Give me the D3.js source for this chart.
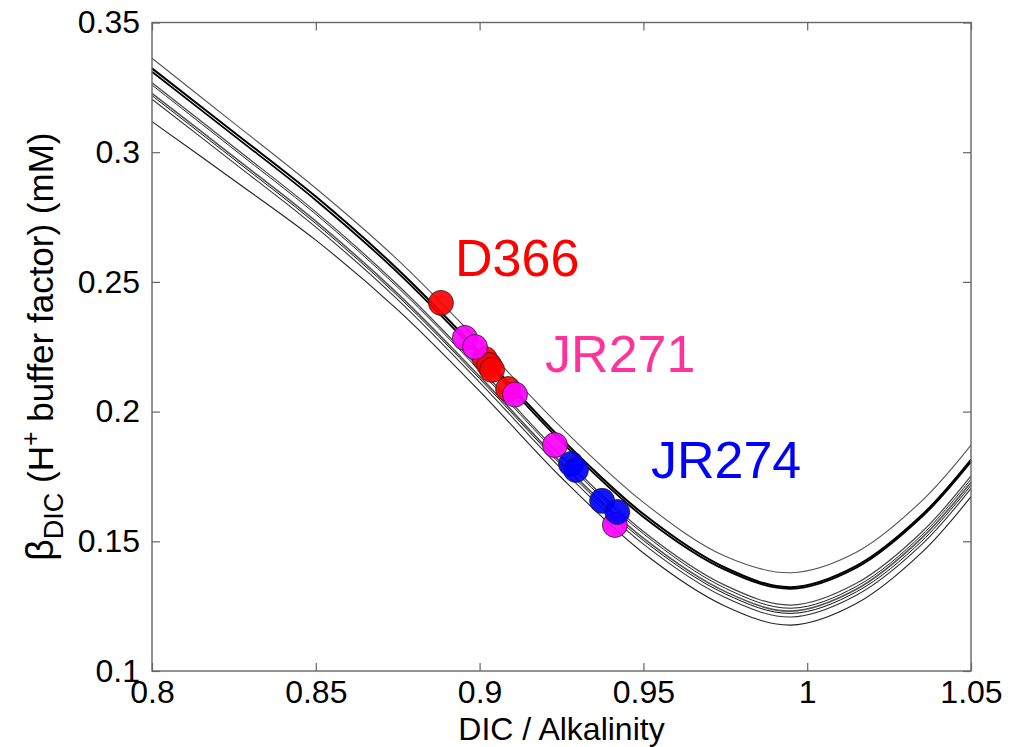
<!DOCTYPE html>
<html>
<head>
<meta charset="utf-8">
<script src="https://cdn.jsdelivr.net/npm/d3@7"></script>
<style>
  html, body { margin: 0; padding: 0; background: #fff; }
  svg { display: block; font-family: "Liberation Sans", Arial, Helvetica, sans-serif; }
</style>
</head>
<body>
<svg id="chart" width="1017" height="747"></svg>
<script>
// ---------- data ----------
const xTicks = [0.8, 0.85, 0.9, 0.95, 1, 1.05];
const xTickLabels = ["0.8", "0.85", "0.9", "0.95", "1", "1.05"];
const yTicks = [0.1, 0.15, 0.2, 0.25, 0.3, 0.35];
const yTickLabels = ["0.1", "0.15", "0.2", "0.25", "0.3", "0.35"];

// x positions at which the curves were read
const curveX = [0.8, 0.825, 0.85, 0.875, 0.9, 0.925, 0.95, 0.975, 0.995, 1.015, 1.035, 1.05];
const curveA = [0.3362, 0.3112, 0.2861, 0.2585, 0.2268, 0.1938, 0.1650, 0.1442, 0.1379, 0.1458, 0.1656, 0.1871];
const curveB = [0.3323, 0.3077, 0.2829, 0.2549, 0.2230, 0.1895, 0.1605, 0.1398, 0.1323, 0.1405, 0.1601, 0.1815];
const curveC = [0.3310, 0.3064, 0.2815, 0.2536, 0.2217, 0.1883, 0.1594, 0.1390, 0.1317, 0.1398, 0.1594, 0.1807];
const curveD = [0.3268, 0.3020, 0.2770, 0.2488, 0.2167, 0.1830, 0.1538, 0.1330, 0.1254, 0.1338, 0.1536, 0.1752];
const curveE = [0.3259, 0.3011, 0.2761, 0.2479, 0.2158, 0.1821, 0.1529, 0.1319, 0.1242, 0.1326, 0.1524, 0.1740];
const curveF = [0.3227, 0.2982, 0.2734, 0.2455, 0.2136, 0.1802, 0.1512, 0.1306, 0.1231, 0.1315, 0.1513, 0.1728];
const curveG = [0.3218, 0.2973, 0.2725, 0.2446, 0.2127, 0.1793, 0.1503, 0.1297, 0.1222, 0.1305, 0.1501, 0.1716];
const curveH = [0.3204, 0.2959, 0.2711, 0.2432, 0.2113, 0.1779, 0.1489, 0.1283, 0.1208, 0.1292, 0.1488, 0.1704];
const curveI = [0.3118, 0.2892, 0.2661, 0.2392, 0.2079, 0.1745, 0.1455, 0.1250, 0.1177, 0.1260, 0.1457, 0.1672];

// cruise observations
const d366X = [0.8882, 0.9016, 0.9029, 0.9038, 0.9087];
const d366Y = [0.2419, 0.2203, 0.2180, 0.2161, 0.2087];
const jr271X = [0.8955, 0.8986, 0.9108, 0.9230, 0.9413];
const jr271Y = [0.2284, 0.2249, 0.2066, 0.1871, 0.1563];
const jr274X = [0.9279, 0.9294, 0.9374, 0.9420];
const jr274Y = [0.1798, 0.1775, 0.1656, 0.1613];

// ---------- layout ----------
const svg = d3.select("#chart");
const mLeft = 152, mRight = 971, mTop = 22.5, mBottom = 671;
const x = d3.scaleLinear().domain([0.8, 1.05]).range([mLeft, mRight]);
const y = d3.scaleLinear().domain([0.1, 0.35]).range([mBottom, mTop]);

const curves = [
  {v: curveA, stroke: "#555", w: 1.1},
  {v: curveI, stroke: "#222", w: 1.1},
  {v: curveH, stroke: "#333", w: 1.1},
  {v: curveG, stroke: "#111", w: 1.0},
  {v: curveF, stroke: "#555", w: 1.6},
  {v: curveE, stroke: "#222", w: 1.0},
  {v: curveD, stroke: "#444", w: 1.2},
  {v: curveC, stroke: "#000", w: 1.8},
  {v: curveB, stroke: "#000", w: 2.0}
];

const line = d3.line()
  .x(d => x(d[0]))
  .y(d => y(d[1]))
  .curve(d3.curveCatmullRom.alpha(0.5));

const gCurves = svg.append("g");
curves.forEach(c => {
  gCurves.append("path")
    .datum(curveX.map((xv, i) => [xv, c.v[i]]))
    .attr("d", line)
    .attr("fill", "none")
    .attr("stroke", c.stroke)
    .attr("stroke-width", c.w);
});

// points
const series = [
  {xs: d366X, ys: d366Y, color: "#ff0000"},
  {xs: jr271X, ys: jr271Y, color: "#ff00ff"},
  {xs: jr274X, ys: jr274Y, color: "#0000ff"}
];
const gPts = svg.append("g");
series.forEach(s => {
  gPts.selectAll(null)
    .data(s.xs.map((xv, i) => [xv, s.ys[i]]))
    .enter().append("circle")
    .attr("cx", d => x(d[0]))
    .attr("cy", d => y(d[1]))
    .attr("r", 12.5)
    .attr("fill", s.color)
    .attr("fill-opacity", 0.92)
    .attr("stroke", "#222")
    .attr("stroke-opacity", 0.8)
    .attr("stroke-width", 1);
});

// labels
const labels = [
  {t: "D366", xv: 0.8925, yv: 0.2522, color: "#ff0000"},
  {t: "JR271", xv: 0.9200, yv: 0.2153, color: "#ff3399"},
  {t: "JR274", xv: 0.9523, yv: 0.1744, color: "#0000ff"}
];
svg.append("g").selectAll("text").data(labels).enter().append("text")
  .attr("x", d => x(d.xv))
  .attr("y", d => y(d.yv))
  .attr("fill", d => d.color)
  .attr("font-size", 52)
  .text(d => d.t);

// frame
svg.append("rect")
  .attr("x", mLeft).attr("y", mTop)
  .attr("width", mRight - mLeft).attr("height", mBottom - mTop)
  .attr("fill", "none").attr("stroke", "#666").attr("stroke-width", 1.4);

// axes
const axisStyle = g => {
  g.select(".domain").remove();
  g.selectAll(".tick line").attr("stroke", "#666").attr("stroke-width", 1.2);
  g.selectAll(".tick text").attr("font-size", 32).attr("fill", "#000")
    .attr("font-family", "'Liberation Sans', Arial, sans-serif");
};
svg.append("g").attr("transform", `translate(0,${mBottom})`)
  .call(d3.axisBottom(x).tickValues(xTicks).tickFormat((d, i) => xTickLabels[i]).tickSize(-8).tickPadding(9))
  .call(axisStyle);
svg.append("g").attr("transform", `translate(0,${mTop})`)
  .call(d3.axisTop(x).tickValues(xTicks).tickFormat("").tickSize(-8))
  .call(axisStyle);
svg.append("g").attr("transform", `translate(${mLeft},0)`)
  .call(d3.axisLeft(y).tickValues(yTicks).tickFormat((d, i) => yTickLabels[i]).tickSize(-8).tickPadding(12))
  .call(axisStyle);
svg.append("g").attr("transform", `translate(${mRight},0)`)
  .call(d3.axisRight(y).tickValues(yTicks).tickFormat("").tickSize(-8))
  .call(axisStyle);

// axis titles
svg.append("text")
  .attr("x", (mLeft + mRight) / 2).attr("y", 740)
  .attr("text-anchor", "middle").attr("font-size", 32)
  .text("DIC / Alkalinity");

const yt = svg.append("text")
  .attr("transform", `translate(53,${(mTop + mBottom) / 2}) rotate(-90)`)
  .attr("text-anchor", "middle").attr("font-size", 35);
yt.append("tspan").attr("font-size", 38).text("β");
yt.append("tspan").attr("font-size", 27).attr("dy", 10).text("DIC");
yt.append("tspan").attr("dy", -10).text(" (H");
yt.append("tspan").attr("font-size", 25).attr("dy", -14).text("+");
yt.append("tspan").attr("dy", 14).text(" buffer factor) (mM)");
</script>
</body>
</html>
